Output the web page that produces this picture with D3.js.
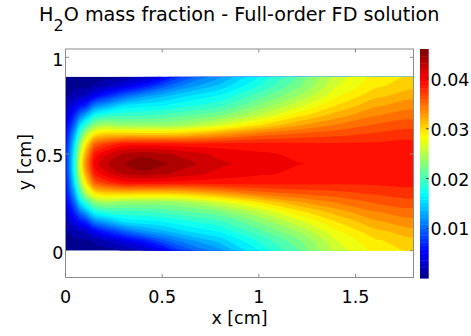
<!DOCTYPE html>
<html>
<head>
<meta charset="utf-8">
<script src="https://cdn.jsdelivr.net/npm/d3@7"></script>
<style>
  body { margin: 0; background: #fff; }
  text { font-family: "DejaVu Sans", sans-serif; fill: #000; }
</style>
</head>
<body>
<svg id="chart" width="471" height="336"></svg>
<script>
// grid positions (cm)
const xGrid = [0, 0.025, 0.05, 0.075, 0.1, 0.15, 0.2, 0.3, 0.4, 0.5, 0.6, 0.8, 1.0, 1.2, 1.4, 1.6, 1.8];
const yGrid = [0, 0.05, 0.1, 0.15, 0.2, 0.25, 0.3, 0.35, 0.4, 0.45, 0.5, 0.55, 0.6, 0.65, 0.7, 0.75, 0.8, 0.85, 0.9];

// H2O mass fraction, one column per xGrid entry, running y = 0 -> 0.9
const h2o = [
  [0.0000, 0.0004, 0.0012, 0.0024, 0.0037, 0.0049, 0.0058, 0.0064, 0.0068, 0.0070, 0.0068, 0.0064, 0.0058, 0.0049, 0.0037, 0.0024, 0.0012, 0.0004, 0.0000],
  [0.0001, 0.0007, 0.0018, 0.0034, 0.0054, 0.0075, 0.0095, 0.0112, 0.0123, 0.0127, 0.0123, 0.0112, 0.0095, 0.0075, 0.0054, 0.0034, 0.0018, 0.0007, 0.0001],
  [0.0002, 0.0010, 0.0025, 0.0050, 0.0078, 0.0110, 0.0143, 0.0170, 0.0188, 0.0195, 0.0188, 0.0170, 0.0143, 0.0110, 0.0078, 0.0050, 0.0025, 0.0010, 0.0002],
  [0.0002, 0.0010, 0.0028, 0.0062, 0.0110, 0.0160, 0.0203, 0.0240, 0.0265, 0.0275, 0.0265, 0.0240, 0.0203, 0.0160, 0.0110, 0.0062, 0.0028, 0.0010, 0.0002],
  [0.0003, 0.0010, 0.0030, 0.0070, 0.0130, 0.0190, 0.0250, 0.0289, 0.0318, 0.0330, 0.0318, 0.0289, 0.0250, 0.0190, 0.0130, 0.0070, 0.0030, 0.0010, 0.0003],
  [0.0005, 0.0018, 0.0052, 0.0115, 0.0178, 0.0235, 0.0300, 0.0360, 0.0393, 0.0408, 0.0393, 0.0360, 0.0300, 0.0235, 0.0178, 0.0115, 0.0052, 0.0018, 0.0005],
  [0.0008, 0.0025, 0.0070, 0.0130, 0.0190, 0.0248, 0.0312, 0.0375, 0.0412, 0.0428, 0.0412, 0.0375, 0.0312, 0.0248, 0.0190, 0.0130, 0.0070, 0.0025, 0.0008],
  [0.0015, 0.0045, 0.0100, 0.0160, 0.0198, 0.0240, 0.0316, 0.0396, 0.0433, 0.0444, 0.0433, 0.0396, 0.0316, 0.0240, 0.0198, 0.0160, 0.0100, 0.0045, 0.0015],
  [0.0028, 0.0065, 0.0125, 0.0168, 0.0200, 0.0240, 0.0315, 0.0398, 0.0440, 0.0460, 0.0440, 0.0398, 0.0315, 0.0240, 0.0200, 0.0168, 0.0125, 0.0065, 0.0028],
  [0.0048, 0.0095, 0.0140, 0.0172, 0.0205, 0.0240, 0.0315, 0.0397, 0.0435, 0.0448, 0.0435, 0.0397, 0.0315, 0.0240, 0.0205, 0.0172, 0.0140, 0.0095, 0.0048],
  [0.0085, 0.0118, 0.0155, 0.0182, 0.0212, 0.0245, 0.0318, 0.0395, 0.0427, 0.0438, 0.0427, 0.0395, 0.0318, 0.0245, 0.0212, 0.0182, 0.0155, 0.0118, 0.0085],
  [0.0125, 0.0150, 0.0175, 0.0198, 0.0228, 0.0270, 0.0335, 0.0395, 0.0412, 0.0420, 0.0412, 0.0395, 0.0335, 0.0270, 0.0228, 0.0198, 0.0175, 0.0150, 0.0125],
  [0.0172, 0.0188, 0.0210, 0.0232, 0.0260, 0.0300, 0.0355, 0.0394, 0.0405, 0.0410, 0.0405, 0.0394, 0.0355, 0.0300, 0.0260, 0.0232, 0.0210, 0.0188, 0.0172],
  [0.0215, 0.0226, 0.0245, 0.0268, 0.0296, 0.0328, 0.0364, 0.0393, 0.0400, 0.0403, 0.0400, 0.0393, 0.0364, 0.0328, 0.0296, 0.0268, 0.0245, 0.0226, 0.0215],
  [0.0264, 0.0272, 0.0285, 0.0302, 0.0323, 0.0346, 0.0370, 0.0391, 0.0398, 0.0400, 0.0398, 0.0391, 0.0370, 0.0346, 0.0323, 0.0302, 0.0285, 0.0272, 0.0264],
  [0.0292, 0.0299, 0.0312, 0.0328, 0.0344, 0.0361, 0.0377, 0.0391, 0.0397, 0.0399, 0.0397, 0.0391, 0.0377, 0.0361, 0.0344, 0.0328, 0.0312, 0.0299, 0.0292],
  [0.0305, 0.0311, 0.0325, 0.0339, 0.0352, 0.0367, 0.0381, 0.0392, 0.0396, 0.0398, 0.0396, 0.0392, 0.0381, 0.0367, 0.0352, 0.0339, 0.0325, 0.0311, 0.0305]
];

const xTicks = [0, 0.5, 1, 1.5];
const yTicks = [0, 0.5, 1];
const cbTicks = [0.01, 0.02, 0.03, 0.04];
const levelCount = 32;

const svg = d3.select("#chart");

const x = d3.scaleLinear().domain([0, 1.8]).range([65.5, 413.5]);
const y = d3.scaleLinear().domain([-0.139, 1.043]).range([277.5, 49]);

// matlab jet(64)
function jetMap(m) {
  const n = m / 4, u = [];
  for (let k = 1; k <= n; k++) u.push(k / n);
  for (let k = 1; k < n; k++) u.push(1);
  for (let k = n; k >= 1; k--) u.push(k / n);
  const J = d3.range(m).map(() => [0, 0, 0]);
  u.forEach((v, k) => {
    const g = n / 2 + k + 1, r = g + n, b = g - n;
    if (r <= m) J[r - 1][0] = v;
    if (g <= m) J[g - 1][1] = v;
    if (b >= 1) J[b - 1][2] = v;
  });
  return J.map(c => d3.rgb(c[0] * 255, c[1] * 255, c[2] * 255).formatHex());
}
const jet = jetMap(64);

// flatten the grid, row by row
const nx = xGrid.length, ny = yGrid.length;
const values = [];
for (let j = 0; j < ny; j++) for (let i = 0; i < nx; i++) values.push(h2o[i][j]);
const [cmin, cmax] = d3.extent(values);

const color = d3.scaleQuantize().domain([cmin, cmax]).range(jet);
const levels = d3.range(1, levelCount).map(k => cmin + k * (cmax - cmin) / levelCount);

// grid index -> cm -> px
const ix = d3.scaleLinear().domain(d3.range(nx)).range(xGrid).clamp(true);
const iy = d3.scaleLinear().domain(d3.range(ny)).range(yGrid).clamp(true);
const toPx = ([gx, gy]) => [x(ix(gx - 0.5)), y(iy(gy - 0.5))];

const smooth = d3.line().curve(d3.curveCatmullRomClosed.alpha(0.5));
const ringPath = ring => smooth(ring.slice(0, -1).map(toPx));

const contours = d3.contours().size([nx, ny]).thresholds(levels)(values);

svg.append("clipPath").attr("id", "clip")
  .append("rect")
  .attr("x", x(0)).attr("y", y(0.9))
  .attr("width", x(1.8) - x(0)).attr("height", y(0) - y(0.9));

const field = svg.append("g").attr("clip-path", "url(#clip)");
field.append("rect")
  .attr("x", x(0)).attr("y", y(0.9))
  .attr("width", x(1.8) - x(0)).attr("height", y(0) - y(0.9))
  .attr("fill", color(cmin));

field.selectAll("path")
  .data(contours)
  .join("path")
  .attr("d", d => d.coordinates.flatMap(poly => poly.map(ringPath)).join(""))
  .attr("fill-rule", "evenodd")
  .attr("fill", d => color(d.value + 1e-9))
  .attr("stroke", "none");

// axes box + ticks
const box = svg.append("g").attr("stroke", "#8c8c8c").attr("fill", "none").attr("stroke-width", 1);
box.append("rect")
  .attr("x", x(0)).attr("y", y(1.043))
  .attr("width", x(1.8) - x(0)).attr("height", y(-0.139) - y(1.043));

xTicks.forEach(v => {
  box.append("line").attr("x1", x(v)).attr("x2", x(v)).attr("y1", 277.5).attr("y2", 274);
  box.append("line").attr("x1", x(v)).attr("x2", x(v)).attr("y1", 49).attr("y2", 52.5);
});
yTicks.forEach(v => {
  box.append("line").attr("x1", 65.5).attr("x2", 69).attr("y1", y(v)).attr("y2", y(v));
  box.append("line").attr("x1", 413.5).attr("x2", 410).attr("y1", y(v)).attr("y2", y(v));
});

svg.append("g").selectAll("text")
  .data(xTicks)
  .join("text")
  .attr("x", d => x(d)).attr("y", 302.5)
  .attr("text-anchor", "middle")
  .style("font-size", "17.5px")
  .text(d => d3.format("~g")(d));

svg.append("g").selectAll("text")
  .data(yTicks)
  .join("text")
  .attr("x", 63.3).attr("y", d => y(d) + 8.5)
  .attr("text-anchor", "end")
  .style("font-size", "17.5px")
  .text(d => d3.format("~g")(d));

svg.append("text")
  .attr("x", 239.5).attr("y", 323.5)
  .attr("text-anchor", "middle")
  .style("font-size", "17.5px")
  .text("x [cm]");

svg.append("text")
  .attr("transform", "translate(31,162) rotate(-90)")
  .attr("text-anchor", "middle")
  .style("font-size", "17.5px")
  .text("y [cm]");

// title
const title = svg.append("text")
  .attr("x", 239.3).attr("y", 20.7)
  .attr("text-anchor", "middle")
  .style("font-size", "19.2px");
title.append("tspan").text("H");
title.append("tspan").attr("dy", 10.5).style("font-size", "16px").text("2");
title.append("tspan").attr("dy", -10.5).text("O mass fraction - Full-order FD solution");

// colorbar
const cb = d3.scaleLinear().domain([cmin, cmax]).range([278.2, 49]);
const cbX = 420, cbW = 8.7;
const step = (cmax - cmin) / jet.length;
svg.append("g").selectAll("rect")
  .data(jet)
  .join("rect")
  .attr("x", cbX)
  .attr("y", (c, i) => cb(cmin + (i + 1) * step))
  .attr("width", cbW)
  .attr("height", (c, i) => cb(cmin + i * step) - cb(cmin + (i + 1) * step) + 0.4)
  .attr("fill", c => c);

svg.append("g").selectAll("line")
  .data(cbTicks)
  .join("line")
  .attr("x1", cbX + cbW - 2.5).attr("x2", cbX + cbW)
  .attr("y1", d => cb(d)).attr("y2", d => cb(d))
  .attr("stroke", "#333").attr("stroke-width", 1);

svg.append("g").selectAll("text")
  .data(cbTicks)
  .join("text")
  .attr("x", 430.5).attr("y", d => cb(d) + 7)
  .style("font-size", "17.5px")
  .text(d => d3.format(".2f")(d));
</script>
</body>
</html>
